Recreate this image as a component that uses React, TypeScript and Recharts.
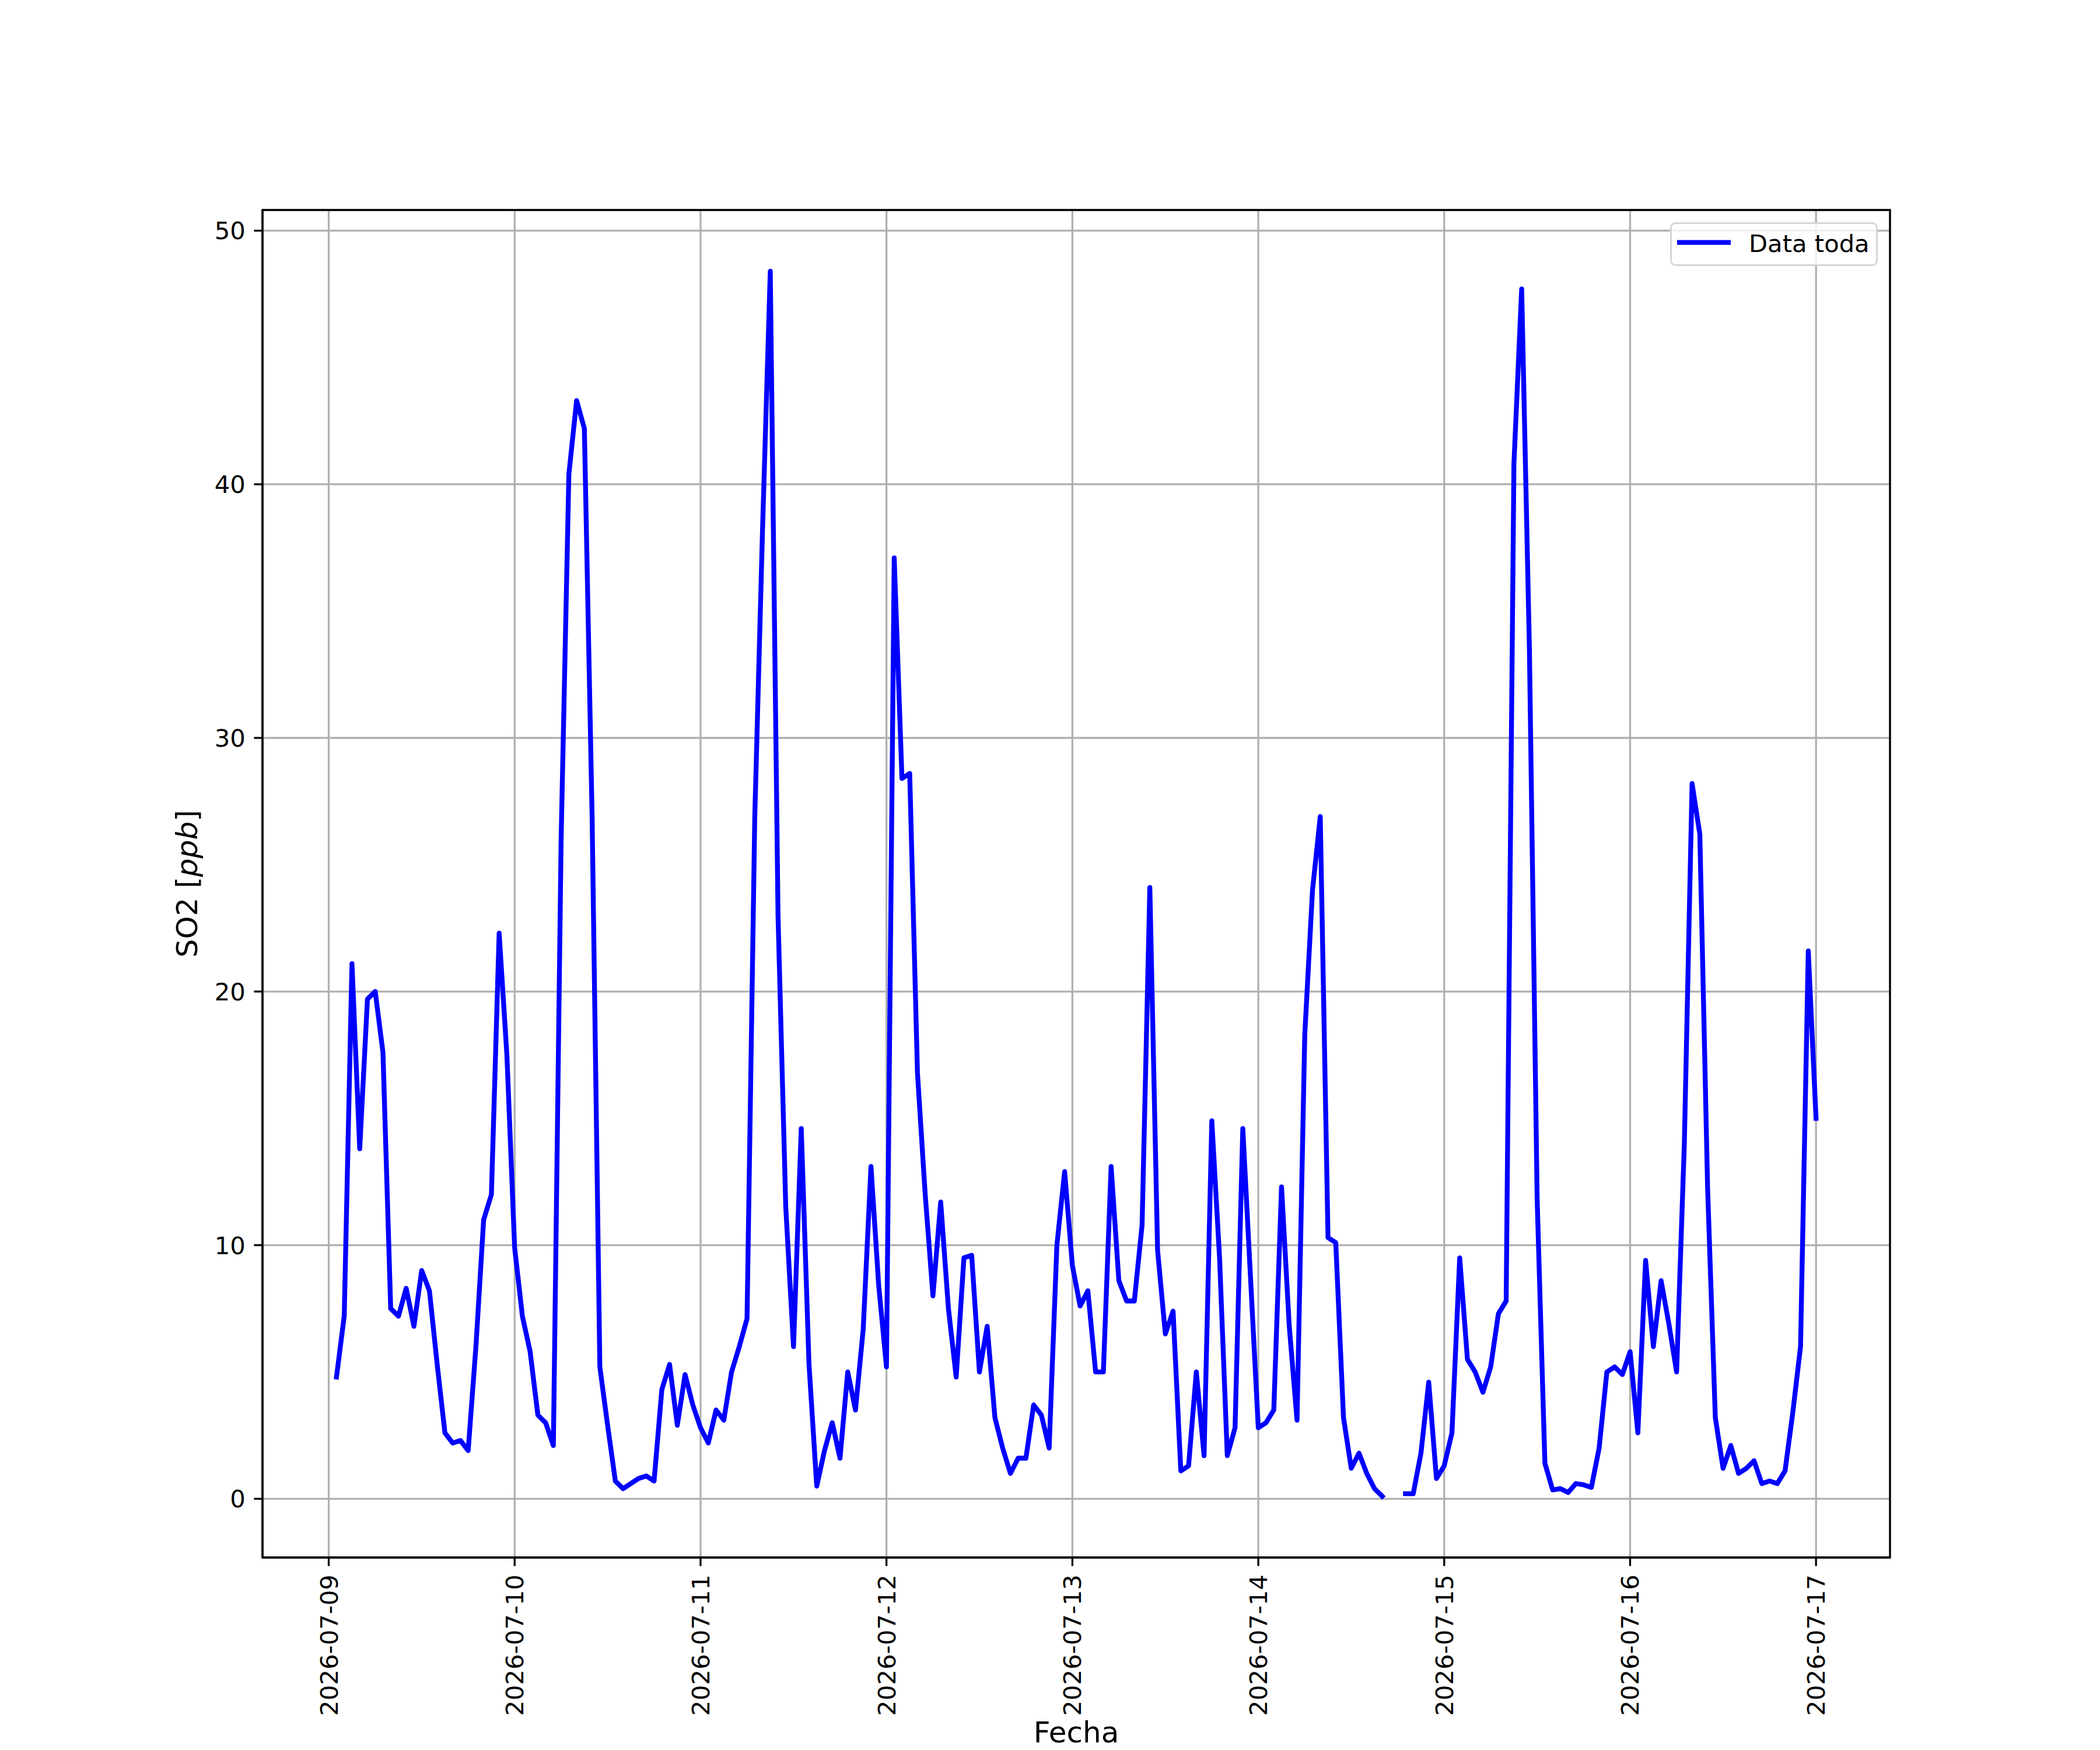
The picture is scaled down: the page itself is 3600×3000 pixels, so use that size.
import { LineChart, Line, XAxis, YAxis, CartesianGrid, ReferenceArea, Legend, Label } from 'recharts'

const FONT = '"DejaVu Sans", sans-serif'

// tick labels on the date axis (one per day, at 00:00)
const DATES = [
  '2026-07-09',
  '2026-07-10',
  '2026-07-11',
  '2026-07-12',
  '2026-07-13',
  '2026-07-14',
  '2026-07-15',
  '2026-07-16',
  '2026-07-17',
]
const Y_TICKS = [0, 10, 20, 30, 40, 50]

// hourly SO2 [ppb], each list runs from 01:00 of the day to 00:00 of the next
const DAY_0709 = [4.8, 7.2, 21.1, 13.8, 19.7, 20.0, 17.6, 7.5, 7.2, 8.3, 6.8, 9.0, 8.2, 5.3, 2.6, 2.2, 2.3, 1.9, 6.0, 11.0, 12.0, 22.3, 17.5, 9.9]
const DAY_0710 = [7.2, 5.8, 3.3, 3.0, 2.1, 26.0, 40.4, 43.3, 42.2, 26.9, 5.2, 2.9, 0.7, 0.4, 0.6, 0.8, 0.9, 0.7, 4.3, 5.3, 2.9, 4.9, 3.7, 2.8]
const DAY_0711 = [2.2, 3.5, 3.1, 5.0, 6.0, 7.1, 26.9, 38.2, 48.4, 23.0, 11.5, 6.0, 14.6, 5.3, 0.5, 1.9, 3.0, 1.6, 5.0, 3.5, 6.7, 13.1, 8.4, 5.2]
const DAY_0712 = [37.1, 28.4, 28.6, 16.8, 12.0, 8.0, 11.7, 7.5, 4.8, 9.5, 9.6, 5.0, 6.8, 3.2, 2.0, 1.0, 1.6, 1.6, 3.7, 3.3, 2.0, 10.0, 12.9, 9.2]
const DAY_0713 = [7.6, 8.2, 5.0, 5.0, 13.1, 8.6, 7.8, 7.8, 10.8, 24.1, 9.8, 6.5, 7.4, 1.1, 1.3, 5.0, 1.7, 14.9, 9.5, 1.7, 2.8, 14.6, 8.7, 2.8]
const DAY_0714 = [3.0, 3.5, 12.3, 6.8, 3.1, 18.3, 24.0, 26.9, 10.3, 10.1, 3.2, 1.2, 1.8, 1.0, 0.4, 0.1, null, null, 0.2, 0.2, 1.8, 4.6, 0.8, 1.3]
const DAY_0715 = [2.6, 9.5, 5.5, 5.0, 4.2, 5.2, 7.3, 7.8, 40.8, 47.7, 33.5, 11.8, 1.4, 0.35, 0.4, 0.25, 0.6, 0.55, 0.45, 2.0, 5.0, 5.2, 4.9, 5.8]
const DAY_0716 = [2.6, 9.4, 6.0, 8.6, 6.9, 5.0, 14.0, 28.2, 26.2, 12.3, 3.2, 1.2, 2.1, 1.0, 1.2, 1.5, 0.6, 0.7, 0.6, 1.1, 3.4, 6.0, 21.6, 15.0]

const chartData = [
  ...DAY_0709,
  ...DAY_0710,
  ...DAY_0711,
  ...DAY_0712,
  ...DAY_0713,
  ...DAY_0714,
  ...DAY_0715,
  ...DAY_0716,
].map((v, i) => ({ hour: i + 1, so2: v }))

const X_TICKS = DATES.map((_, i) => i * 24)
// matplotlib-style 5% margins around the data
const X_MIN = -8.55
const X_MAX = 201.55
const Y_MIN = -2.315
const Y_MAX = 50.815

const LINE_W = 8.33

const DateTick = (props: any) => {
  const { x, y, payload } = props
  return (
    <text
      x={x}
      y={y}
      dy="0.36em"
      transform={`rotate(-90, ${x}, ${y})`}
      textAnchor="end"
      fontFamily={FONT}
      fontSize={41.7}
      fill="#000"
    >
      {DATES[Math.round(payload.value / 24)]}
    </text>
  )
}

const ValueTick = (props: any) => {
  const { x, y, payload } = props
  return (
    <text x={x} y={y} dy="0.36em" textAnchor="end" fontFamily={FONT} fontSize={41.7} fill="#000">
      {payload.value}
    </text>
  )
}

const XTitle = (props: any) => {
  const vb = props.viewBox
  return (
    <text x={vb.x + vb.width / 2} y={vb.y + 317} textAnchor="middle" fontFamily={FONT} fontSize={50} fill="#000">
      Fecha
    </text>
  )
}

const YTitle = (props: any) => {
  const vb = props.viewBox
  const cx = vb.x + 88
  const cy = vb.y + vb.height / 2
  return (
    <text
      x={cx}
      y={cy}
      transform={`rotate(-90, ${cx}, ${cy})`}
      textAnchor="middle"
      fontFamily={FONT}
      fontSize={50}
      fill="#000"
    >
      <tspan>SO2 [</tspan>
      <tspan fontStyle="italic">ppb</tspan>
      <tspan>]</tspan>
    </text>
  )
}

const LegendBox = () => (
  <div
    style={{
      position: 'relative',
      boxSizing: 'border-box',
      width: 356,
      height: 75,
      border: '3.3px solid #d5d5d5',
      borderRadius: 9,
      background: 'rgba(255,255,255,0.8)',
    }}
  >
    <svg width={356} height={75} style={{ position: 'absolute', left: -3.3, top: -3.3 }}>
      <line x1={12} x2={104} y1={34.7} y2={34.7} stroke="#0000ff" strokeWidth={LINE_W} />
      <text x={135} y={51} fontFamily={FONT} fontSize={41.7} fill="#000">
        Data toda
      </text>
    </svg>
  </div>
)

export default function App() {
  return (
    <div style={{ position: 'absolute', left: 0, top: 0, width: 3600, height: 3000, background: '#fff' }}>
      <LineChart
        width={3600}
        height={3000}
        data={chartData}
        margin={{ top: 360, right: 360, bottom: 30, left: 250 }}
      >
        <CartesianGrid stroke="#b0b0b0" strokeWidth={3.3} />
        <XAxis
          type="number"
          dataKey="hour"
          domain={[X_MIN, X_MAX]}
          ticks={X_TICKS}
          allowDataOverflow
          interval={0}
          height={300}
          tickSize={14.6}
          tickMargin={14.6}
          tickLine={{ stroke: '#000', strokeWidth: 3.3 }}
          axisLine={{ stroke: '#000', strokeWidth: 3.3 }}
          tick={(p: any) => <DateTick {...p} />}
        >
          <Label content={XTitle} />
        </XAxis>
        <YAxis
          type="number"
          domain={[Y_MIN, Y_MAX]}
          ticks={Y_TICKS}
          allowDataOverflow
          interval={0}
          width={200}
          tickSize={14.6}
          tickMargin={14.6}
          tickLine={{ stroke: '#000', strokeWidth: 3.3 }}
          axisLine={{ stroke: '#000', strokeWidth: 3.3 }}
          tick={(p: any) => <ValueTick {...p} />}
        >
          <Label content={YTitle} />
        </YAxis>
        <Line
          type="linear"
          dataKey="so2"
          name="Data toda"
          stroke="#0000ff"
          strokeWidth={LINE_W}
          strokeLinejoin="round"
          strokeLinecap="square"
          dot={false}
          activeDot={false}
          connectNulls={false}
          isAnimationActive={false}
        />
        <ReferenceArea
          x1={X_MIN}
          x2={X_MAX}
          y1={Y_MIN}
          y2={Y_MAX}
          fill="none"
          stroke="#000"
          strokeWidth={3.3}
          ifOverflow="visible"
        />
        <Legend
          layout="horizontal"
          align="center"
          verticalAlign="middle"
          content={() => <LegendBox />}
          wrapperStyle={{ position: 'absolute', left: 2863, top: 381, width: 356, height: 75 }}
        />
      </LineChart>
    </div>
  )
}
